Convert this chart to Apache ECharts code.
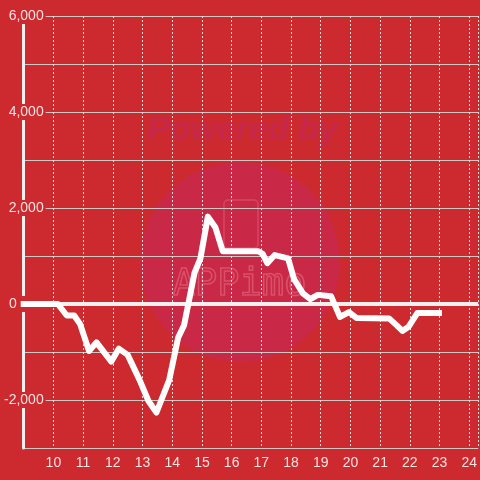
<!DOCTYPE html>
<html>
<head>
<meta charset="utf-8">
<script src="https://cdn.jsdelivr.net/npm/echarts@6/dist/echarts.min.js"></script>
<style>
html,body{margin:0;padding:0;background:#cd2a2f;}
#chart{width:480px;height:480px;}
</style>
</head>
<body>
<div id="chart"></div>
<script>
// hours of day
var hours = [9.0, 10.15, 10.45, 10.7, 10.9, 11.2, 11.45, 11.95, 12.2, 12.5, 12.9, 13.2, 13.47,
  13.9, 14.2, 14.4, 14.6, 14.75, 14.95, 15.2, 15.45, 15.7, 16.9, 17.05, 17.2, 17.45, 17.9,
  18.1, 18.4, 18.65, 18.9, 19.35, 19.65, 19.95, 20.2, 21.3, 21.55, 21.75, 21.95, 22.25, 22.98];
var values = [0, 0, -240, -240, -420, -980, -800, -1200, -930, -1060, -1580, -2020, -2260,
  -1580, -700, -440, 180, 650, 950, 1820, 1600, 1100, 1100, 1040, 850, 1020, 950,
  520, 220, 100, 190, 160, -270, -170, -290, -300, -440, -560, -480, -190, -190];
var yTicks = [-2000, 0, 2000, 4000, 6000];
var xTicks = [10, 11, 12, 13, 14, 15, 16, 17, 18, 19, 20, 21, 22, 23, 24];

var data = hours.map(function (h, i) { return [h, values[i]]; });
var BG = '#cd2a2f';
var chart = echarts.init(document.getElementById('chart'));
chart.setOption({
  backgroundColor: BG,
  animation: false,
  graphic: [
    { type: 'circle', z: -10, shape: { cx: 240, cy: 262, r: 100 }, style: { fill: '#c92947' } },
    { type: 'text', z: -9, left: 147, top: 114, style: { text: 'Powered by', fill: '#c7284a',
      font: 'italic bold 34px "Liberation Sans", Arial, sans-serif' } },
    { type: 'text', z: -9, left: 172, top: 266, style: { text: 'APPimo', fill: 'rgba(0,0,0,0)',
      stroke: 'rgba(235,130,145,0.45)', lineWidth: 1.5,
      font: '37px "DejaVu Sans Mono", monospace' } },
    { type: 'rect', z: -9, shape: { x: 224, y: 200, width: 34, height: 48, r: 4 },
      style: { fill: 'rgba(0,0,0,0)', stroke: 'rgba(235,130,145,0.35)', lineWidth: 1.5 } }
  ],
  grid: { left: 21, right: 0, top: 16, bottom: 32 },
  xAxis: {
    type: 'value', min: 9, max: 24.3, interval: 1,
    axisLine: { show: false },
    axisTick: { show: false },
    axisLabel: {
      color: '#f2e2e2', fontSize: 14, margin: 8, fontFamily: '"Liberation Sans", Arial, sans-serif',
      showMaxLabel: false,
      formatter: function (v) { return xTicks.indexOf(v) >= 0 ? String(v) : ''; }
    },
    splitLine: { show: true, lineStyle: { color: '#e8d8d8', type: [2, 2], width: 1 } }
  },
  yAxis: {
    type: 'value', min: -3000, max: 6000, interval: 1000,
    axisLine: { show: true, lineStyle: { color: '#f4eeee', width: 3 } },
    axisTick: { show: false },
    axisLabel: {
      color: '#f2e2e2', fontSize: 14, margin: -22, fontFamily: '"Liberation Sans", Arial, sans-serif',
      backgroundColor: BG, padding: [1, 2, 1, 1],
      formatter: function (v) {
        if (yTicks.indexOf(v) < 0) return '';
        if (v === 0) return '{z|0}';
        return v.toString().replace(/\B(?=(\d{3})+(?!\d))/g, ',');
      },
      rich: { z: { color: '#f2e2e2', fontSize: 14, padding: [0, 27, 0, 0],
        fontFamily: '"Liberation Sans", Arial, sans-serif' } }
    },
    splitLine: { show: true, lineStyle: { color: '#cfc6c6', width: 1 } }
  },
  series: [{
    type: 'line',
    data: data,
    symbol: 'none',
    lineStyle: { color: '#ffffff', width: 6, cap: 'square', join: 'round' },
    markLine: {
      silent: true, symbol: 'none', label: { show: false },
      lineStyle: { color: '#f6efef', width: 4, type: 'solid' },
      data: [{ yAxis: 0 }],
      z: 1
    },
    z: 3
  }]
});
</script>
</body>
</html>
